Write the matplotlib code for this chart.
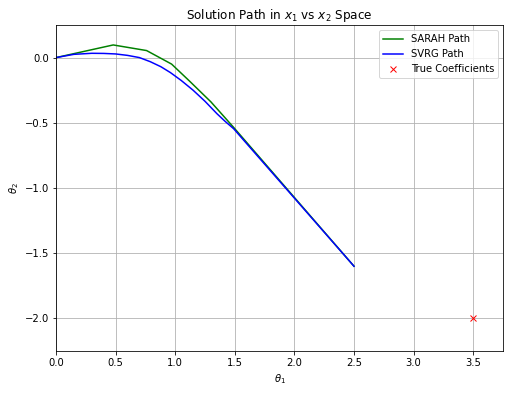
import matplotlib
matplotlib.use("Agg")
import matplotlib.pyplot as plt

# solution paths
sarah_x = [0, 0.48, 0.76, 0.97, 1.12, 1.30, 1.49, 2.50]
sarah_y = [0, 0.097, 0.054, -0.05, -0.18, -0.34, -0.535, -1.60]
svrg_x = [0, 0.15, 0.30, 0.40, 0.50, 0.60, 0.70, 0.79, 0.88, 0.96, 1.05, 1.15, 1.25, 1.35, 1.42, 1.49, 2.50]
svrg_y = [0, 0.025, 0.033, 0.032, 0.028, 0.017, 0.0, -0.031, -0.07, -0.115, -0.175, -0.25, -0.335, -0.43, -0.49, -0.545, -1.60]
true_coef = [3.5, -2.0]

fig = plt.figure(figsize=(509/72, 393/72), dpi=72)
ax = fig.add_axes([56/509, 1-351/393, 447/509, 326/393])
ax.plot(sarah_x, sarah_y, color='green', label='SARAH Path')
ax.plot(svrg_x, svrg_y, color='blue', label='SVRG Path')
ax.plot(true_coef[0], true_coef[1], 'rx', label='True Coefficients')
ax.set_xlim(0, 3.75)
ax.set_ylim(-2.25, 0.25)
ax.set_title("Solution Path in $x_1$ vs $x_2$ Space")
ax.set_xlabel(r"$\theta_1$")
ax.set_ylabel(r"$\theta_2$")
ax.grid(True)
ax.legend(loc='upper right')
fig.savefig("out.png", dpi=72)
